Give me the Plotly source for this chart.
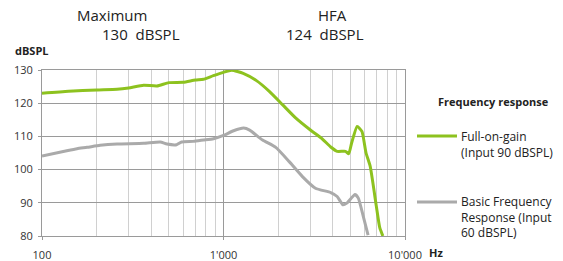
import plotly.graph_objects as go

# ---- data ----
fog_freq = [100, 140, 201, 259, 300, 363, 430, 500, 600, 700, 775, 880, 1000, 1110, 1284, 1519,
            1794, 2120, 2505, 3000, 3460, 3897, 4228, 4700, 4900, 5080, 5450, 5790, 6100, 6430,
            6950, 7260, 7550]
fog_db = [123.0, 123.6, 124.0, 124.2, 124.6, 125.4, 125.2, 126.2, 126.3, 127.0, 127.2, 128.3,
          129.3, 129.9, 129.0, 126.8, 123.5, 119.5, 115.5, 112.0, 109.5, 106.8, 105.5, 105.5,
          104.8, 108.0, 113.0, 111.5, 105.0, 101.0, 89.0, 82.5, 80.0]

basic_freq = [100, 137, 156, 177, 209, 259, 363, 448, 488, 552, 588, 681, 775, 880, 1000, 1136,
              1291, 1393, 1642, 1941, 2303, 2722, 3210, 3897, 4228, 4550, 4780, 5300, 5530,
              5890, 6260]
basic_db = [104.1, 105.7, 106.3, 106.7, 107.3, 107.7, 107.9, 108.3, 107.7, 107.5, 108.3, 108.5,
            108.9, 109.3, 110.3, 111.7, 112.5, 111.9, 108.9, 106.7, 102.4, 97.9, 94.4, 93.1,
            91.9, 89.4, 89.9, 92.5, 91.4, 85.9, 80.3]

x_tickvals = [100, 1000, 10000]
x_ticktext = ["100", "1'000", "10'000"]
x_minor = [200, 300, 400, 500, 600, 700, 800, 900, 2000, 3000, 4000, 5000, 6000, 7000, 8000, 9000]
y_tickvals = [80, 90, 100, 110, 120, 130]

GREEN = "#8dc21f"
GRAY = "#aaaaaa"
FONT = "Open Sans"
TXT = "#222222"

fig = go.Figure()
fig.add_trace(go.Scatter(x=fog_freq, y=fog_db, mode="lines",
                         line=dict(color=GREEN, width=3, shape="spline", smoothing=0.5),
                         name="Full-on-gain (Input 90 dBSPL)", showlegend=False))
fig.add_trace(go.Scatter(x=basic_freq, y=basic_db, mode="lines",
                         line=dict(color=GRAY, width=3, shape="spline", smoothing=0.5),
                         name="Basic Frequency Response (Input 60 dBSPL)", showlegend=False))

fig.update_layout(
    width=563, height=261,
    margin=dict(l=42, r=158, t=70, b=25),
    paper_bgcolor="white", plot_bgcolor="white",
    font=dict(family=FONT, color=TXT, size=11),
    xaxis=dict(type="log", range=[2, 4], tickvals=x_tickvals, ticktext=x_ticktext,
               automargin=False, ticklabelstandoff=6,
               showgrid=True, gridcolor="#9a9a9a", gridwidth=1,
               minor=dict(tickvals=x_minor, showgrid=True, gridcolor="#d0d0d0", gridwidth=1,
                          ticks=""),
               ticks="outside", ticklen=3, tickcolor="#9a9a9a",
               showline=True, linecolor="#9a9a9a", mirror=True, zeroline=False,
               tickfont=dict(size=11, color="#333333")),
    yaxis=dict(range=[80, 130], tickvals=y_tickvals,
               automargin=False, ticklabelstandoff=3,
               showgrid=True, gridcolor="#9a9a9a", gridwidth=1,
               ticks="outside", ticklen=3, tickcolor="#9a9a9a",
               showline=True, linecolor="#9a9a9a", mirror=True, zeroline=False,
               tickfont=dict(size=11, color="#333333")),
)

def px_x(px):
    return (px - 42) / 363.0

def px_y(py):
    return (236 - py) / 166.0

ann = [
    dict(text="Maximum", x=px_x(112), y=px_y(15), xanchor="center", yanchor="middle", font=dict(size=15)),
    dict(text="130  dBSPL", x=px_x(141), y=px_y(34), xanchor="center", yanchor="middle", font=dict(size=15)),
    dict(text="HFA", x=px_x(332), y=px_y(15), xanchor="center", yanchor="middle", font=dict(size=15)),
    dict(text="124  dBSPL", x=px_x(325), y=px_y(34), xanchor="center", yanchor="middle", font=dict(size=15)),
    dict(text="<b>dBSPL</b>", x=px_x(13), y=px_y(51), xanchor="left", yanchor="middle", font=dict(size=11)),
    dict(text="<b>Hz</b>", x=px_x(427), y=px_y(252), xanchor="left", yanchor="middle", font=dict(size=11)),
    dict(text="<b>Frequency response</b>", x=px_x(436), y=px_y(101), xanchor="left", yanchor="middle", font=dict(size=11)),
    dict(text="Full-on-gain<br>(Input 90 dBSPL)", x=px_x(459), y=px_y(144), xanchor="left", yanchor="middle",
         align="left", font=dict(size=12)),
    dict(text="Basic Frequency<br>Response (Input<br>60 dBSPL)", x=px_x(459), y=px_y(217), xanchor="left",
         yanchor="middle", align="left", font=dict(size=12)),
]
for a in ann:
    a.update(xref="paper", yref="paper", showarrow=False)
fig.update_layout(annotations=ann)

fig.add_shape(type="line", xref="paper", yref="paper", x0=px_x(417), x1=px_x(457),
              y0=px_y(136), y1=px_y(136), line=dict(color=GREEN, width=3))
fig.add_shape(type="line", xref="paper", yref="paper", x0=px_x(417), x1=px_x(457),
              y0=px_y(202), y1=px_y(202), line=dict(color=GRAY, width=3))

fig.write_html("out.html", config={"displayModeBar": False},
               post_script="document.body.style.margin='0';document.body.style.padding='0';")
